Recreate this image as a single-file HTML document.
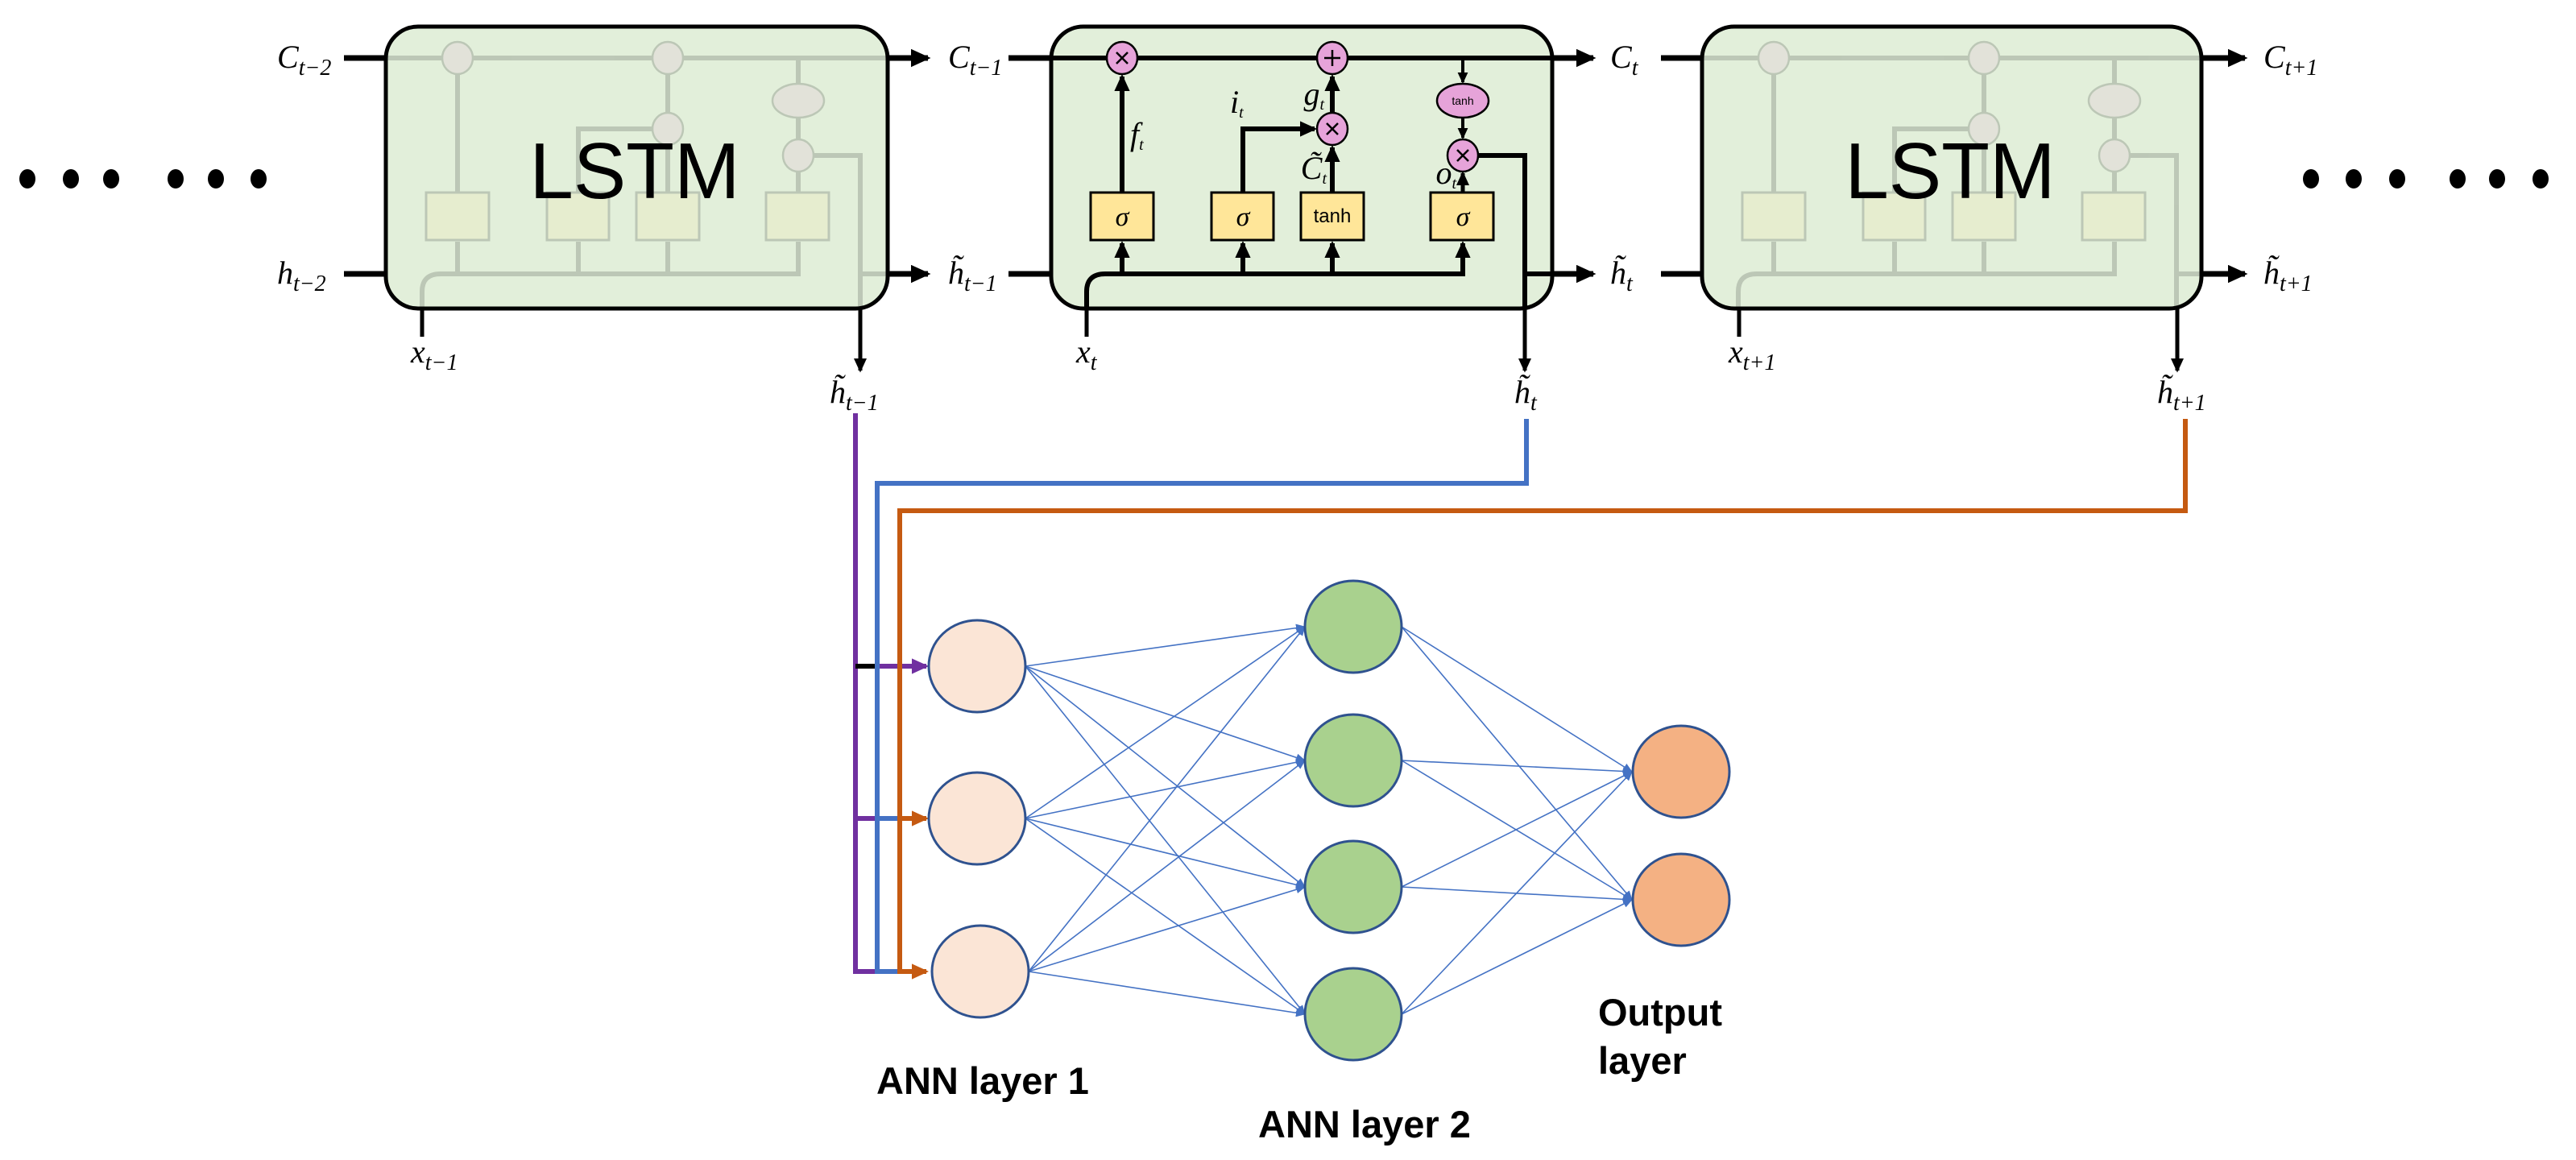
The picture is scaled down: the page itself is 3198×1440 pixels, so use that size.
<!DOCTYPE html>
<html><head><meta charset="utf-8"><style>
html,body{margin:0;padding:0;background:#fff;}
svg{display:block;}
.m{font-family:"Liberation Serif",serif;font-style:italic;font-size:40px;}
.s{font-size:28px;}
.b{font-family:"Liberation Sans",sans-serif;font-weight:bold;font-size:47px;}
</style></head><body>
<svg width="3198" height="1440" viewBox="0 0 3198 1440" xmlns="http://www.w3.org/2000/svg">
<defs>
<marker id="a" markerWidth="4" markerHeight="4" refX="3" refY="1.6" orient="auto" markerUnits="strokeWidth"><path d="M0,0 L3.5,1.6 L0,3.2z" fill="#000"/></marker>
<marker id="ap" markerWidth="4" markerHeight="4" refX="3" refY="1.6" orient="auto" markerUnits="strokeWidth"><path d="M0,0 L3.5,1.6 L0,3.2z" fill="#7030a0"/></marker>
<marker id="ao" markerWidth="4" markerHeight="4" refX="3" refY="1.6" orient="auto" markerUnits="strokeWidth"><path d="M0,0 L3.5,1.6 L0,3.2z" fill="#c55a11"/></marker>
<marker id="ab" markerWidth="14" markerHeight="10" refX="11" refY="5" orient="auto" markerUnits="userSpaceOnUse"><path d="M0,0 L12,5 L0,10z" fill="#4472c4"/></marker>
</defs>

<g fill="#000">
<ellipse cx="34" cy="222" rx="10" ry="12"/><ellipse cx="88" cy="222" rx="10" ry="12"/><ellipse cx="138" cy="222" rx="10" ry="12"/>
<ellipse cx="218" cy="222" rx="10" ry="12"/><ellipse cx="268" cy="222" rx="10" ry="12"/><ellipse cx="321" cy="222" rx="10" ry="12"/>
<ellipse cx="2869" cy="222" rx="10" ry="12"/><ellipse cx="2922" cy="222" rx="10" ry="12"/><ellipse cx="2976" cy="222" rx="10" ry="12"/>
<ellipse cx="3051" cy="222" rx="10" ry="12"/><ellipse cx="3100" cy="222" rx="10" ry="12"/><ellipse cx="3154" cy="222" rx="10" ry="12"/>
</g>

<g stroke="#000" stroke-width="7" fill="none">
<line x1="427" y1="72" x2="480" y2="72"/><line x1="427" y1="340" x2="480" y2="340"/>
<line x1="1102" y1="72" x2="1152" y2="72" marker-end="url(#a)"/><line x1="1102" y1="340" x2="1152" y2="340" marker-end="url(#a)"/>
<line x1="1252" y1="72" x2="1305" y2="72"/><line x1="1252" y1="340" x2="1305" y2="340"/>
<line x1="1927" y1="72" x2="1978" y2="72" marker-end="url(#a)"/><line x1="1927" y1="340" x2="1978" y2="340" marker-end="url(#a)"/>
<line x1="2062" y1="72" x2="2113" y2="72"/><line x1="2062" y1="340" x2="2113" y2="340"/>
<line x1="2733" y1="72" x2="2787" y2="72" marker-end="url(#a)"/><line x1="2733" y1="340" x2="2787" y2="340" marker-end="url(#a)"/>
<line x1="524" y1="383" x2="524" y2="418" stroke-width="5"/>
<line x1="1349" y1="383" x2="1349" y2="418" stroke-width="5"/>
<line x1="2159" y1="383" x2="2159" y2="418" stroke-width="5"/>
<line x1="1068" y1="383" x2="1068" y2="460" stroke-width="5" marker-end="url(#a)"/>
<line x1="1893" y1="383" x2="1893" y2="460" stroke-width="5" marker-end="url(#a)"/>
<line x1="2703" y1="383" x2="2703" y2="460" stroke-width="5" marker-end="url(#a)"/>
</g>

<rect x="479" y="33" width="623" height="350" rx="40" fill="#e2efda" stroke="#000" stroke-width="5"/>
<rect x="1305" y="33" width="622" height="350" rx="40" fill="#e2efda" stroke="#000" stroke-width="5"/>
<rect x="2113" y="33" width="620" height="350" rx="40" fill="#e2efda" stroke="#000" stroke-width="5"/>

<g>
<g stroke="#000" stroke-width="6" fill="none">
<line x1="1305" y1="72" x2="1927" y2="72"/>
<path d="M1349,383 L1349,362 Q1349,340 1372,340 L1816,340 L1816,302" marker-end="url(#a)"/>
<line x1="1393" y1="340" x2="1393" y2="302" marker-end="url(#a)"/>
<line x1="1543" y1="340" x2="1543" y2="302" marker-end="url(#a)"/>
<line x1="1654" y1="340" x2="1654" y2="302" marker-end="url(#a)"/>
<line x1="1393" y1="239" x2="1393" y2="95" marker-end="url(#a)"/>
<path d="M1543,239 L1543,160 L1632,160" marker-end="url(#a)"/>
<line x1="1654" y1="239" x2="1654" y2="183" marker-end="url(#a)"/>
<line x1="1654" y1="140" x2="1654" y2="95" marker-end="url(#a)"/>
<line x1="1816" y1="72" x2="1816" y2="102" stroke-width="4" marker-end="url(#a)"/>
<line x1="1816" y1="146" x2="1816" y2="171" stroke-width="4" marker-end="url(#a)"/>
<line x1="1816" y1="239" x2="1816" y2="215" stroke-width="5" marker-end="url(#a)"/>
<path d="M1836,193 L1893,193 L1893,383"/>
<line x1="1893" y1="340" x2="1927" y2="340"/>
</g>
<g stroke="#000" stroke-width="3" fill="#ffe699">
<rect x="1354" y="239" width="78" height="59"/><rect x="1504" y="239" width="77" height="59"/>
<rect x="1615" y="239" width="78" height="59"/><rect x="1776" y="239" width="78" height="59"/>
</g>
<g stroke="#000" stroke-width="2.5" fill="#e6a3d9">
<ellipse cx="1393" cy="72" rx="19" ry="20"/><ellipse cx="1654" cy="72" rx="19" ry="20"/>
<ellipse cx="1654" cy="160" rx="19" ry="20"/><ellipse cx="1816" cy="193" rx="19" ry="20"/>
<ellipse cx="1816" cy="125" rx="32" ry="21"/>
</g>
<g stroke="#000" stroke-width="2.5">
<path d="M1386,65 L1400,79 M1400,65 L1386,79"/><path d="M1647,153 L1661,167 M1661,153 L1647,167"/>
<path d="M1809,186 L1823,200 M1823,186 L1809,200"/><path d="M1654,62 L1654,82 M1644,72 L1664,72"/>
</g>
<text x="1816" y="130" font-family="Liberation Sans,sans-serif" font-size="14" text-anchor="middle">tanh</text>
<g font-family="Liberation Serif,serif" font-style="italic" font-size="34" text-anchor="middle">
<text x="1393" y="280">σ</text><text x="1543" y="280">σ</text><text x="1816" y="280">σ</text>
</g>
<text x="1654" y="276" font-family="Liberation Sans,sans-serif" font-size="24" text-anchor="middle">tanh</text>
<g class="m" font-size="28">
<text x="1403" y="180">f<tspan dy="6" font-size="20">t</tspan></text>
<text x="1527" y="140">i<tspan dy="6" font-size="20">t</tspan></text>
<text x="1644" y="130" text-anchor="end">g<tspan dy="6" font-size="20">t</tspan></text>
<text x="1647" y="222" text-anchor="end">C̃<tspan dy="6" font-size="20">t</tspan></text>
<text x="1808" y="228" text-anchor="end">o<tspan dy="6" font-size="20">t</tspan></text>
</g>
</g>

<g transform="translate(-825,0)" opacity="0.16"><g stroke="#000" stroke-width="6" fill="none">
<line x1="1305" y1="72" x2="1927" y2="72"/><path d="M1349,383 L1349,362 Q1349,340 1372,340 L1816,340 L1816,300"/>
<line x1="1393" y1="340" x2="1393" y2="300"/><line x1="1543" y1="340" x2="1543" y2="300"/><line x1="1654" y1="340" x2="1654" y2="300"/>
<line x1="1393" y1="239" x2="1393" y2="92"/><path d="M1543,239 L1543,160 L1635,160"/><line x1="1654" y1="239" x2="1654" y2="92"/>
<line x1="1816" y1="72" x2="1816" y2="239"/><path d="M1836,193 L1893,193 L1893,383"/><line x1="1893" y1="340" x2="1927" y2="340"/></g>
<g stroke="#000" stroke-width="3" fill="#ffe699"><rect x="1354" y="239" width="78" height="59"/><rect x="1504" y="239" width="77" height="59"/><rect x="1615" y="239" width="78" height="59"/><rect x="1776" y="239" width="78" height="59"/></g>
<g stroke="#000" stroke-width="2.5" fill="#e6a3d9"><ellipse cx="1393" cy="72" rx="19" ry="20"/><ellipse cx="1654" cy="72" rx="19" ry="20"/><ellipse cx="1654" cy="160" rx="19" ry="20"/><ellipse cx="1816" cy="193" rx="19" ry="20"/><ellipse cx="1816" cy="125" rx="32" ry="21"/></g>
</g>
<g transform="translate(809,0)" opacity="0.16"><g stroke="#000" stroke-width="6" fill="none">
<line x1="1305" y1="72" x2="1927" y2="72"/><path d="M1349,383 L1349,362 Q1349,340 1372,340 L1816,340 L1816,300"/>
<line x1="1393" y1="340" x2="1393" y2="300"/><line x1="1543" y1="340" x2="1543" y2="300"/><line x1="1654" y1="340" x2="1654" y2="300"/>
<line x1="1393" y1="239" x2="1393" y2="92"/><path d="M1543,239 L1543,160 L1635,160"/><line x1="1654" y1="239" x2="1654" y2="92"/>
<line x1="1816" y1="72" x2="1816" y2="239"/><path d="M1836,193 L1893,193 L1893,383"/><line x1="1893" y1="340" x2="1927" y2="340"/></g>
<g stroke="#000" stroke-width="3" fill="#ffe699"><rect x="1354" y="239" width="78" height="59"/><rect x="1504" y="239" width="77" height="59"/><rect x="1615" y="239" width="78" height="59"/><rect x="1776" y="239" width="78" height="59"/></g>
<g stroke="#000" stroke-width="2.5" fill="#e6a3d9"><ellipse cx="1393" cy="72" rx="19" ry="20"/><ellipse cx="1654" cy="72" rx="19" ry="20"/><ellipse cx="1654" cy="160" rx="19" ry="20"/><ellipse cx="1816" cy="193" rx="19" ry="20"/><ellipse cx="1816" cy="125" rx="32" ry="21"/></g>
</g>
<g font-family="Liberation Sans,sans-serif" font-size="98" text-anchor="middle" fill="#000">
<text x="788" y="246">LSTM</text><text x="2421" y="246">LSTM</text>
</g>

<g class="m">
<text x="344" y="84">C<tspan dy="9" class="s">t−2</tspan></text>
<text x="344" y="352">h<tspan dy="9" class="s">t−2</tspan></text>
<text x="1177" y="84">C<tspan dy="9" class="s">t−1</tspan></text>
<text x="1177" y="352">h̃<tspan dy="9" class="s">t−1</tspan></text>
<text x="1999" y="84">C<tspan dy="9" class="s">t</tspan></text>
<text x="1999" y="352">h̃<tspan dy="9" class="s">t</tspan></text>
<text x="2810" y="84">C<tspan dy="9" class="s">t+1</tspan></text>
<text x="2810" y="352">h̃<tspan dy="9" class="s">t+1</tspan></text>
<text x="510" y="450">x<tspan dy="9" class="s">t−1</tspan></text>
<text x="1336" y="450">x<tspan dy="9" class="s">t</tspan></text>
<text x="2146" y="450">x<tspan dy="9" class="s">t+1</tspan></text>
<text x="1030" y="500">h̃<tspan dy="9" class="s">t−1</tspan></text>
<text x="1880" y="500">h̃<tspan dy="9" class="s">t</tspan></text>
<text x="2678" y="500">h̃<tspan dy="9" class="s">t+1</tspan></text>
</g>

<g fill="none" stroke-width="6">
<path d="M1062,513 L1062,1206 L1100,1206" stroke="#7030a0"/>
<path d="M1062,1016 L1100,1016" stroke="#7030a0"/>
<path d="M1062,827 L1089,827" stroke="#000"/>
<path d="M1089,827 L1150,827" stroke="#7030a0" marker-end="url(#ap)"/>
<path d="M1895,520 L1895,600 L1089,600 L1089,1206 L1117,1206" stroke="#4472c4"/>
<path d="M1089,1016 L1117,1016" stroke="#4472c4"/>
<path d="M2713,520 L2713,634 L1117,634 L1117,1206 L1150,1206" stroke="#c55a11" marker-end="url(#ao)"/>
<path d="M1117,1016 L1150,1016" stroke="#c55a11" marker-end="url(#ao)"/>
</g>

<g stroke="#4472c4" stroke-width="1.6" marker-end="url(#ab)">
<line x1="1273" y1="827" x2="1620" y2="778"/><line x1="1273" y1="827" x2="1620" y2="944"/><line x1="1273" y1="827" x2="1620" y2="1101"/><line x1="1273" y1="827" x2="1620" y2="1259"/>
<line x1="1273" y1="1016" x2="1620" y2="778"/><line x1="1273" y1="1016" x2="1620" y2="944"/><line x1="1273" y1="1016" x2="1620" y2="1101"/><line x1="1273" y1="1016" x2="1620" y2="1259"/>
<line x1="1277" y1="1206" x2="1620" y2="778"/><line x1="1277" y1="1206" x2="1620" y2="944"/><line x1="1277" y1="1206" x2="1620" y2="1101"/><line x1="1277" y1="1206" x2="1620" y2="1259"/>
<line x1="1740" y1="778" x2="2026" y2="958"/><line x1="1740" y1="778" x2="2026" y2="1117"/>
<line x1="1740" y1="944" x2="2026" y2="958"/><line x1="1740" y1="944" x2="2026" y2="1117"/>
<line x1="1740" y1="1101" x2="2026" y2="958"/><line x1="1740" y1="1101" x2="2026" y2="1117"/>
<line x1="1740" y1="1259" x2="2026" y2="958"/><line x1="1740" y1="1259" x2="2026" y2="1117"/>
</g>
<g stroke="#2f528f" stroke-width="3">
<ellipse cx="1213" cy="827" rx="60" ry="57" fill="#fbe5d6"/>
<ellipse cx="1213" cy="1016" rx="60" ry="57" fill="#fbe5d6"/>
<ellipse cx="1217" cy="1206" rx="60" ry="57" fill="#fbe5d6"/>
<ellipse cx="1680" cy="778" rx="60" ry="57" fill="#a9d18e"/>
<ellipse cx="1680" cy="944" rx="60" ry="57" fill="#a9d18e"/>
<ellipse cx="1680" cy="1101" rx="60" ry="57" fill="#a9d18e"/>
<ellipse cx="1680" cy="1259" rx="60" ry="57" fill="#a9d18e"/>
<ellipse cx="2087" cy="958" rx="60" ry="57" fill="#f4b183"/>
<ellipse cx="2087" cy="1117" rx="60" ry="57" fill="#f4b183"/>
</g>
<g class="b">
<text x="1088" y="1358">ANN layer 1</text>
<text x="1562" y="1412">ANN layer 2</text>
<text x="1984" y="1273">Output</text>
<text x="1984" y="1333">layer</text>
</g>
</svg>
</body></html>
